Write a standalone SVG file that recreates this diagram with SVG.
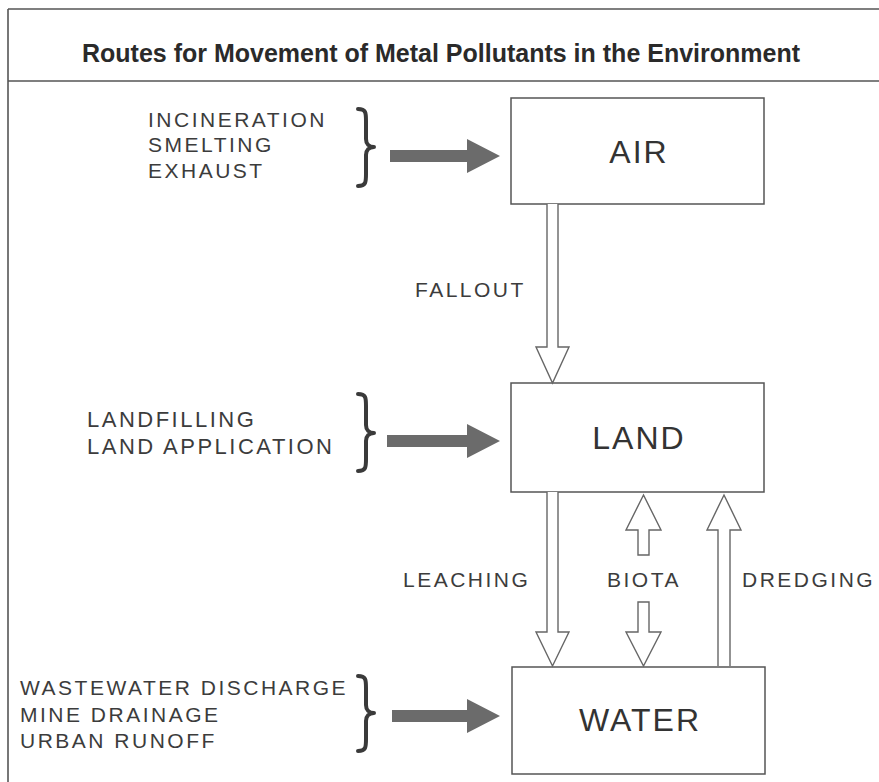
<svg xmlns="http://www.w3.org/2000/svg" width="879" height="782" viewBox="0 0 879 782">
<style>
.frame{fill:none;stroke:#555;stroke-width:1.6}
.box{fill:#fff;stroke:#555;stroke-width:1.5}
.boxtxt{font-family:"Liberation Sans",Arial,sans-serif;font-size:32px;fill:#333;letter-spacing:2px;text-anchor:middle}
.lbl{font-family:"Liberation Sans",Arial,sans-serif;font-size:21px;fill:#3c3c3c;letter-spacing:2.5px}
.lbl2{font-family:"Liberation Sans",Arial,sans-serif;font-size:22px;fill:#3c3c3c;letter-spacing:2.5px}
.lbl3{font-family:"Liberation Sans",Arial,sans-serif;font-size:21px;fill:#3c3c3c;letter-spacing:2.5px}
.title{font-family:"Liberation Sans",Arial,sans-serif;font-size:25px;font-weight:bold;fill:#2a2a2a}
.brace{fill:none;stroke:#3a3a3a;stroke-width:4;stroke-linecap:round;stroke-linejoin:round}
.solid{fill:#6b6b6b;stroke:none}
.hollow{fill:#fff;stroke:#666;stroke-width:1.4;stroke-linejoin:miter}
</style>

<g id="frame">
  <line class="frame" x1="8" y1="9" x2="879" y2="9"/>
  <line class="frame" x1="8" y1="81" x2="879" y2="81"/>
  <line class="frame" x1="8" y1="9" x2="8" y2="782"/>
  <text class="title" x="82" y="62" textLength="718" lengthAdjust="spacingAndGlyphs">Routes for Movement of Metal Pollutants in the Environment</text>
</g>

<g id="air">
  <rect class="box" x="511" y="98" width="253" height="106"/>
  <text class="boxtxt" x="639" y="163">AIR</text>
</g>
<g id="land">
  <rect class="box" x="511" y="383" width="253" height="109"/>
  <text class="boxtxt" x="639" y="449">LAND</text>
</g>
<g id="water">
  <rect class="box" x="512" y="667" width="253" height="107"/>
  <text class="boxtxt" x="640" y="731">WATER</text>
</g>

<g id="air-sources">
  <text class="lbl" x="148" y="127">INCINERATION</text>
  <text class="lbl" x="148" y="152">SMELTING</text>
  <text class="lbl" x="148" y="178">EXHAUST</text>
  <path class="brace" d="M358 109 C366 109 366 113 366 121 L366 139 C366 144 369 147 374 147 C369 147 366 150 366 155 L366 174 C366 182 366 186 358 186"/>
</g>
<g id="land-sources">
  <text class="lbl2" x="87" y="427">LANDFILLING</text>
  <text class="lbl2" x="87" y="454">LAND APPLICATION</text>
  <path class="brace" d="M358 394 C366 394 366 398 366 406 L366 425 C366 430 369 433 374 433 C369 433 366 436 366 441 L366 459 C366 467 366 471 358 471"/>
</g>
<g id="water-sources">
  <text class="lbl3" x="20" y="695">WASTEWATER DISCHARGE</text>
  <text class="lbl3" x="20" y="722">MINE DRAINAGE</text>
  <text class="lbl3" x="20" y="748">URBAN RUNOFF</text>
  <path class="brace" d="M358 676 C366 676 366 680 366 688 L366 705 C366 710 369 713 374 713 C369 713 366 716 366 721 L366 739 C366 747 366 751 358 751"/>
</g>

<g id="connectors">
  <polygon class="solid" points="390,150 467,150 467,139 500,156 467,173 467,162 390,162"/>
  <polygon class="solid" points="387,435 467,435 467,424 500,441 467,458 467,447 387,447"/>
  <polygon class="solid" points="392,710 467,710 467,699 500,716 467,733 467,722 392,722"/>

  <path class="hollow" d="M547 204 L547 347 L536 347 L552.5 383 L569 347 L558 347 L558 204"/>
  <text class="lbl" x="415" y="297">FALLOUT</text>

  <path class="hollow" d="M547 492 L547 632 L536 632 L552.5 666 L569 632 L558 632 L558 492"/>
  <text class="lbl" x="403" y="587">LEACHING</text>

  <path class="hollow" d="M638 555 L638 530 L626 530 L643.5 495 L661 530 L649 530 L649 555 Z"/>
  <path class="hollow" d="M638 602 L638 632 L626 632 L643.5 666 L661 632 L649 632 L649 602 Z"/>
  <text class="lbl" x="607" y="587">BIOTA</text>

  <path class="hollow" d="M718 666 L718 530 L707 530 L724 495 L741 530 L730 530 L730 666"/>
  <text class="lbl" x="742" y="587">DREDGING</text>
</g>
</svg>
